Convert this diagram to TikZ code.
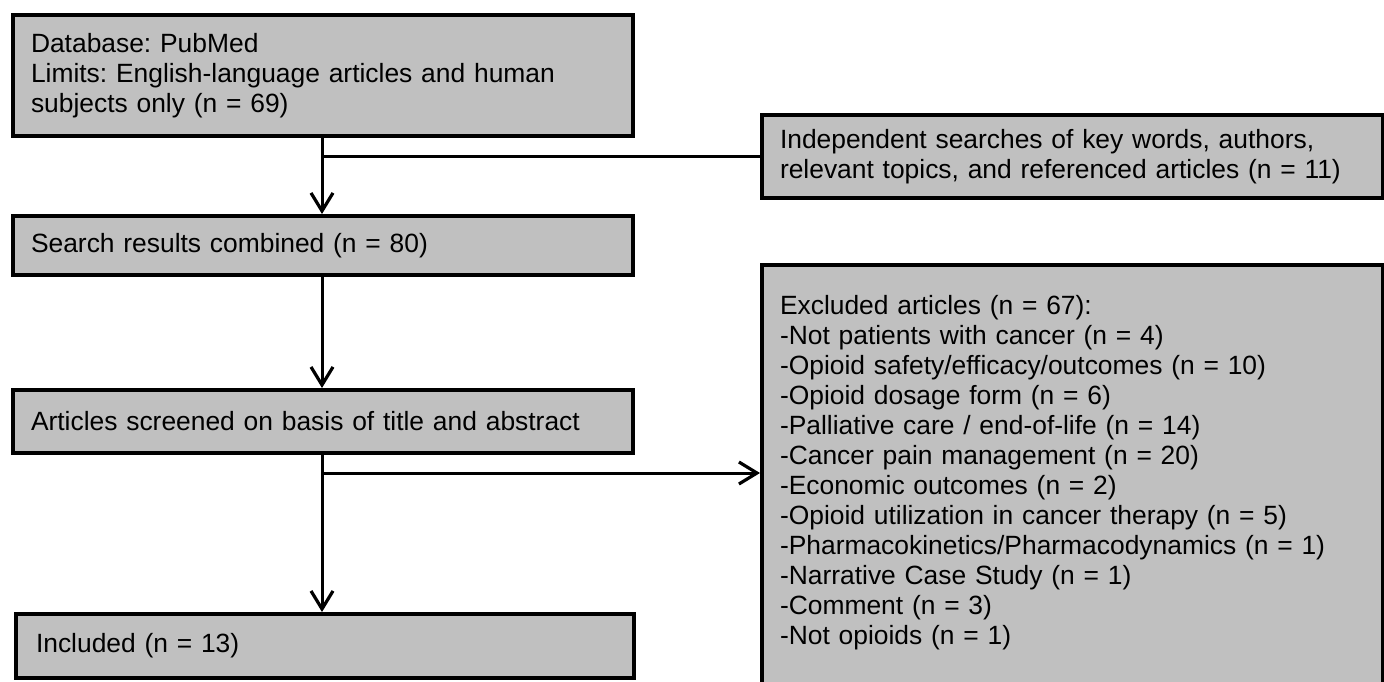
\documentclass[tikz,border=0pt]{standalone}
\usepackage{fontspec}
\setmainfont{Liberation Sans}
\usepackage{tikz}
\usetikzlibrary{arrows.meta,positioning,calc}

\definecolor{boxgray}{RGB}{192,192,192}

\tikzset{
    flowbox/.style={draw, line width=2pt, fill=boxgray, anchor=north west,
        align=left, inner xsep=9pt, inner ysep=0pt,
        font=\fontsize{13.2}{15}\selectfont\frenchspacing},
    flowline/.style={line width=1.5pt},
    flowarrow/.style={line width=1.5pt, -{Straight Barb[length=9pt,width=11pt,line width=1.6pt]}}
}

\begin{document}
\begin{tikzpicture}[x=0.5pt, y=-0.5pt]
    \clip (0, 0) rectangle (1384, 681);
    \fill[white] (0, 0) rectangle (1384, 681);

    % main column
    \node[flowbox, text width=292pt, minimum height=60.5pt] (db) at (11, 13)
        {Database: PubMed\\Limits: English-language articles and human\\subjects only (n = 69)};
    \node[flowbox, text width=292pt, minimum height=29.5pt] (combined) at (11, 214)
        {Search results combined (n = 80)};
    \node[flowbox, text width=292pt, minimum height=31.5pt] (screened) at (11, 388)
        {Articles screened on basis of title and abstract};
    \node[flowbox, text width=289pt, minimum height=32pt, inner xsep=10pt] (included) at (14, 612)
        {Included (n = 13)};

    % side boxes
    \node[flowbox, text width=292.5pt, minimum height=41.5pt] (indep) at (760, 113)
        {Independent searches of key words, authors,\\relevant topics, and referenced articles (n = 11)};
    \node[flowbox, text width=292.5pt, minimum height=213pt, text depth=172.8pt] (excluded) at (760, 263)
        {Excluded articles (n = 67):\\
         -Not patients with cancer (n = 4)\\
         -Opioid safety/efficacy/outcomes (n = 10)\\
         -Opioid dosage form (n = 6)\\
         -Palliative care / end-of-life (n = 14)\\
         -Cancer pain management (n = 20)\\
         -Economic outcomes (n = 2)\\
         -Opioid utilization in cancer therapy (n = 5)\\
         -Pharmacokinetics/Pharmacodynamics (n = 1)\\
         -Narrative Case Study (n = 1)\\
         -Comment (n = 3)\\
         -Not opioids (n = 1)};

    % connectors
    \coordinate (trunk) at (322, 0);
    \coordinate (split) at (322, 473);
    \draw[flowarrow] (db.south -| trunk) -- (combined.north -| trunk);
    \draw[flowline] (indep.west) -- (indep.west -| trunk);
    \draw[flowarrow] (combined.south -| trunk) -- (screened.north -| trunk);
    \draw[flowarrow] (screened.south -| trunk) -- (included.north -| trunk);
    \draw[flowarrow] (split) -- (split -| excluded.west);
\end{tikzpicture}
\end{document}
